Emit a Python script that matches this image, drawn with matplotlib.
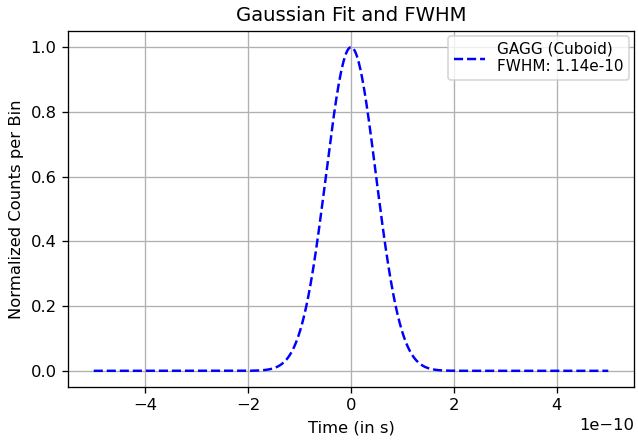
import numpy as np
import matplotlib
matplotlib.use("Agg")
import matplotlib.pyplot as plt

# Fit parameters of the Gaussian timing peak
amplitude = 1.0
mean = 0.0
fwhm = 1.14e-10
t_min, t_max = -5e-10, 5e-10
label = "GAGG (Cuboid)\nFWHM: 1.14e-10"

sigma = fwhm / (2 * np.sqrt(2 * np.log(2)))
t = np.linspace(t_min, t_max, 1000)
counts = amplitude * np.exp(-0.5 * ((t - mean) / sigma) ** 2)

dpi = 118
fig = plt.figure(figsize=(638 / dpi, 441 / dpi), dpi=dpi)
ax = fig.add_axes([68 / 638, 54 / 441, 566 / 638, 356 / 441])
ax.plot(t, counts, "b--", label=label)
ax.set_title("Gaussian Fit and FWHM")
ax.set_xlabel("Time (in s)")
ax.set_ylabel("Normalized Counts per Bin")
ax.grid(True)
ax.legend(loc="upper right", fontsize=9.3, borderaxespad=0.3)
fig.savefig("out.png", dpi=dpi)
